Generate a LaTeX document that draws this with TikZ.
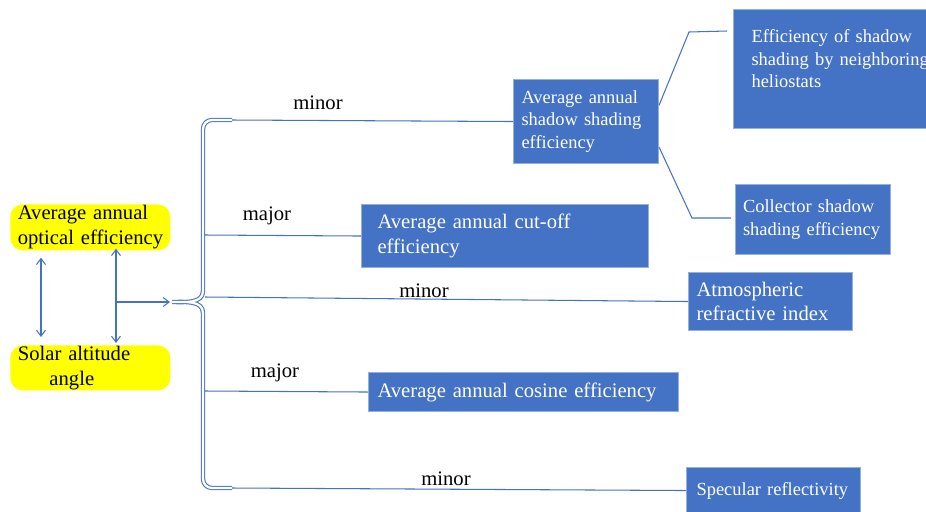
\documentclass[tikz,border=0pt]{standalone}
\usepackage{fontspec}
\setmainfont{Liberation Serif}
\usetikzlibrary{arrows.meta,calc}
\definecolor{boxblue}{RGB}{68,114,196}
\definecolor{boxrim}{RGB}{150,176,222}
\definecolor{wire}{RGB}{68,114,196}
\definecolor{hilite}{RGB}{255,255,0}
\tikzset{
  >={Straight Barb[length=1.2mm,width=1.8mm]},
  card/.style={fill=boxblue,draw=boxrim,line width=0.6pt,text=white,anchor=north west,
    align=left,inner ysep=0pt,font=\fontsize{11.75}{14}\selectfont},
  card small/.style={card,font=\fontsize{10.5}{12.7}\selectfont},
  hibox/.style={fill=hilite,rounded corners=7pt,anchor=north west,align=left,
    inner ysep=0pt,inner xsep=0.15cm,minimum width=3.2cm,text width=2.9cm,
    font=\fontsize{11.75}{14}\selectfont},
  link/.style={draw=wire,line width=0.6pt},
  tag/.style={font=\fontsize{11.75}{14}\selectfont,inner sep=0pt},
  brace/.style={draw=wire,double=white,double distance=1.3pt,line width=0.6pt},
}

\begin{document}
\begin{tikzpicture}[x=0.02cm,y=-0.02cm]
  \useasboundingbox (0,0) rectangle (926,511);
  % left side
  \node[hibox,minimum height=0.92cm] (optic) at (10,204) {\mbox{Average annual}\\\mbox{optical efficiency}};
  \node[hibox,minimum height=0.9cm] (solar) at (10,345) {\mbox{Solar altitude}\\\hspace*{18pt}angle};
  \draw[link,<->] ([xshift=0.62cm,yshift=-0.14cm]optic.south west) -- ([xshift=0.62cm,yshift=0.16cm]solar.north west);
  \draw[link,<->] ([xshift=2.12cm,yshift=0.04cm]optic.south west) coordinate (up)
    -- ([xshift=2.12cm,yshift=0.04cm]solar.north west) coordinate (down);
  \coordinate (fork) at (up |- 0,302);
  \coordinate (tip) at (172,302);
  \draw[link,->] (fork) -- ([xshift=-0.04cm]tip);
  % brace
  \coordinate (top) at (232,120);
  \coordinate (bot) at (232,488);
  \draw[brace] (top) -- (212,120) to[out=180,in=90] (203,129) -- (203,291)
    to[out=-90,in=0] (tip) to[out=0,in=90] (203,313) -- (203,479)
    to[out=-90,in=180] (212,488) -- (bot);
  \coordinate (j2) at (205,235);
  \coordinate (j3) at (205,297);
  \coordinate (j4) at (205,391);
  % factors
  \node[card small,minimum width=2.9cm,minimum height=1.68cm,inner xsep=0.16cm,text width=2.58cm]
    (shade) at (513,79) {Average annual\\shadow shading\\efficiency};
  \node[card small,minimum width=4.52cm,minimum height=2.38cm,inner xsep=0.36cm,text width=3.8cm]
    (neigh) at (733,9) {Efficiency of shadow\\\mbox{shading by neighboring}\\heliostats\\[-1pt]\mbox{}};
  \node[card small,minimum width=3.1cm,minimum height=1.4cm,inner xsep=0.15cm,text width=2.8cm]
    (coll) at (735,184) {Collector shadow\\\mbox{shading efficiency}};
  \node[card,minimum width=5.74cm,minimum height=1.26cm,inner xsep=0.32cm,text width=5.1cm]
    (cutoff) at (361,204) {Average annual cut-off\\efficiency};
  \node[card,minimum width=3.28cm,minimum height=1.16cm,inner xsep=0.16cm,text width=2.96cm]
    (atmo) at (688,272) {Atmospheric\\refractive index};
  \node[card,minimum width=6.2cm,minimum height=0.78cm,inner xsep=0.18cm,text width=5.84cm]
    (cosine) at (368,372) {Average annual cosine efficiency};
  \node[card small,minimum width=3.48cm,minimum height=0.92cm,inner xsep=0.2cm,text width=3.08cm]
    (spec) at (686,467) {\mbox{Specular reflectivity}};
  % connectors
  \draw[link] (top) -- (shade.west);
  \draw[link] (j2) -- (cutoff.west);
  \draw[link] (j3) -- (atmo.west);
  \draw[link] (j4) -- (cosine.west);
  \draw[link] (bot) -- (spec.west);
  \draw[link] ($(shade.north east)!0.31!(shade.south east)$) -- (689,32) -- (727,31);
  \draw[link] ($(shade.north east)!0.8!(shade.south east)$) -- (692,218) -- (731,218);
  % weights
  \node[tag] (w1) at (318,103) {minor};
  \node[tag] (w2) at (267,216) {major};
  \node[tag] (w3) at (424,291) {minor};
  \node[tag] (w4) at (275,373) {major};
  \node[tag] (w5) at (446,479) {minor};
\end{tikzpicture}
\end{document}
